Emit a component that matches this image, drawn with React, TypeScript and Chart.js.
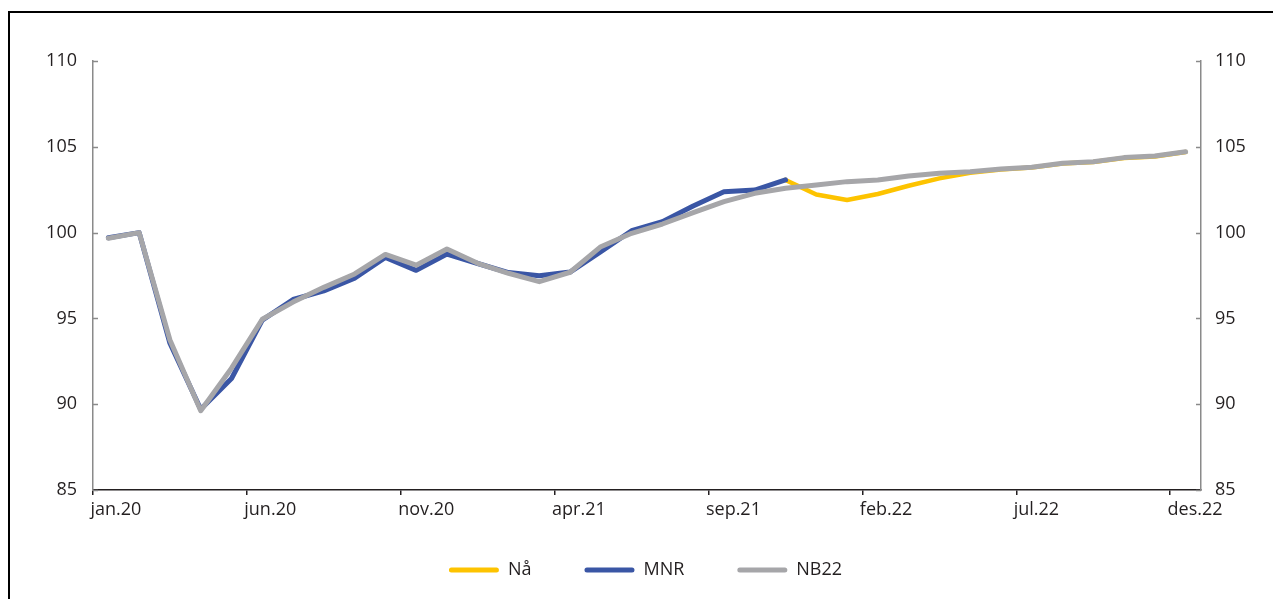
import React, { useEffect, useRef } from "react";
import { Chart, registerables } from "chart.js";

Chart.register(...registerables);

const months = [
  "jan.20", "feb.20", "mar.20", "apr.20", "mai.20", "jun.20", "jul.20", "aug.20", "sep.20", "okt.20", "nov.20", "des.20",
  "jan.21", "feb.21", "mar.21", "apr.21", "mai.21", "jun.21", "jul.21", "aug.21", "sep.21", "okt.21", "nov.21", "des.21",
  "jan.22", "feb.22", "mar.22", "apr.22", "mai.22", "jun.22", "jul.22", "aug.22", "sep.22", "okt.22", "nov.22", "des.22",
];

const naValues: (number | null)[] = [
  null, null, null, null, null, null, null, null, null, null, null, null,
  null, null, null, null, null, null, null, null, null, null, 103.07, 102.22,
  101.9, 102.25, 102.73, 103.16, 103.49, 103.68, 103.79, 104.02, 104.11, 104.35, 104.44, 104.7,
];

const mnrValues: (number | null)[] = [
  99.7, 100.0, 93.55, 89.7, 91.5, 94.9, 96.1, 96.6, 97.34, 98.55, 97.8, 98.75,
  98.2, 97.67, 97.49, 97.7, 98.89, 100.11, 100.64, 101.55, 102.38, 102.48, 103.07, null,
  null, null, null, null, null, null, null, null, null, null, null, null,
];

const nb22Values: number[] = [
  99.67, 100.0, 93.74, 89.62, 92.1, 94.95, 95.95, 96.81, 97.59, 98.73, 98.1, 99.04,
  98.21, 97.63, 97.14, 97.69, 99.18, 99.96, 100.5, 101.16, 101.8, 102.29, 102.58, 102.77,
  102.97, 103.07, 103.3, 103.46, 103.55, 103.71, 103.81, 104.04, 104.13, 104.37, 104.46, 104.71,
];

const yMin = 85;
const yMax = 110;
const yStep = 5;
const labelEvery = 5;

const FONT = "'Open Sans', 'Noto Sans', sans-serif";
const TEXT = "#231f20";
const AXIS_GREY = "#8a8a8a";

const innerTicks = {
  id: "innerTicks",
  afterDraw(chart: any) {
    const ctx = chart.ctx;
    ctx.save();
    ctx.strokeStyle = AXIS_GREY;
    ctx.lineWidth = 1.5;
    ["y", "y2"].forEach((id) => {
      const s = chart.scales[id];
      if (!s) return;
      s.ticks.forEach((t: any) => {
        const py = Math.round(s.getPixelForValue(t.value)) + 0.5;
        ctx.beginPath();
        if (id === "y") {
          ctx.moveTo(s.right, py);
          ctx.lineTo(s.right + 5, py);
        } else {
          ctx.moveTo(s.left, py);
          ctx.lineTo(s.left - 5, py);
        }
        ctx.stroke();
      });
    });
    ctx.restore();
  },
};

export default function App() {
  const ref = useRef<HTMLCanvasElement | null>(null);

  useEffect(() => {
    if (!ref.current) return;
    const chart = new Chart(ref.current, {
      type: "line",
      data: {
        labels: months,
        datasets: [
          {
            label: "Nå",
            data: naValues,
            borderColor: "#fdc300",
            backgroundColor: "#fdc300",
            borderWidth: 4.5,
            pointRadius: 0,
            borderCapStyle: "round",
            borderJoinStyle: "round",
            order: 2,
          },
          {
            label: "MNR",
            data: mnrValues,
            borderColor: "#3a56a5",
            backgroundColor: "#3a56a5",
            borderWidth: 5,
            pointRadius: 0,
            borderCapStyle: "round",
            borderJoinStyle: "round",
            order: 1,
          },
          {
            label: "NB22",
            data: nb22Values,
            borderColor: "#a6a6a9",
            backgroundColor: "#a6a6a9",
            borderWidth: 5,
            pointRadius: 0,
            borderCapStyle: "round",
            borderJoinStyle: "round",
            order: 0,
          },
        ],
      },
      options: {
        responsive: false,
        animation: false,
        devicePixelRatio: 1,
        layout: { padding: { top: 48, bottom: 10, left: 0, right: 0 } },
        plugins: {
          tooltip: { enabled: false },
          legend: {
            position: "bottom",
            labels: {
              sort: (a: any, b: any) => a.datasetIndex - b.datasetIndex,
              boxWidth: 50,
              boxHeight: 5,
              useBorderRadius: true,
              borderRadius: 2.5,
              padding: 53,
              color: TEXT,
              font: { family: FONT, size: 18 },
              generateLabels: (chart: any) =>
                chart.data.datasets.map((d: any, i: number) => ({
                  text: d.label,
                  fillStyle: d.borderColor,
                  strokeStyle: d.borderColor,
                  lineWidth: 0,
                  datasetIndex: i,
                  borderRadius: 2.5,
                  fontColor: TEXT,
                })),
            },
          },
        },
        scales: {
          x: {
            type: "category",
            offset: true,
            afterFit: (s: any) => {
              s.height = 18;
            },
            border: { display: true, color: TEXT, width: 1.5 },
            grid: {
              offset: true,
              drawOnChartArea: false,
              drawTicks: true,
              tickLength: 5,
              lineWidth: 1.5,
              color: (c: any) => (c.index % labelEvery === 0 ? TEXT : "rgba(0,0,0,0)"),
            },
            ticks: {
              autoSkip: false,
              maxRotation: 0,
              minRotation: 0,
              align: "start",
              labelOffset: -18,
              mirror: true,
              padding: -31,
              color: TEXT,
              font: { family: FONT, size: 18 },
              callback: (_v: any, i: number) => (i % labelEvery === 0 ? months[i] : ""),
            },
          },
          y: {
            position: "left",
            min: yMin,
            max: yMax,
            afterFit: (s: any) => {
              s.width = 83;
            },
            border: { display: true, color: AXIS_GREY, width: 1.5 },
            grid: { display: true, drawOnChartArea: false, drawTicks: false },
            ticks: {
              stepSize: yStep,
              padding: 16,
              color: TEXT,
              font: { family: FONT, size: 18 },
            },
          },
          y2: {
            position: "right",
            min: yMin,
            max: yMax,
            afterFit: (s: any) => {
              s.width = 80;
            },
            border: { display: true, color: AXIS_GREY, width: 1.5 },
            grid: { display: true, drawOnChartArea: false, drawTicks: false },
            ticks: {
              stepSize: yStep,
              padding: 14,
              color: TEXT,
              font: { family: FONT, size: 18 },
            },
          },
        },
      },
      plugins: [innerTicks],
    } as any);
    return () => chart.destroy();
  }, []);

  return (
    <div style={{ paddingTop: 3 }}>
      <div
        style={{
          borderLeft: "2px solid #000",
          borderTop: "2px solid #000",
          width: 1271,
          height: 586,
        }}
      >
        <canvas ref={ref} width={1271} height={586} style={{ display: "block" }} />
      </div>
    </div>
  );
}
